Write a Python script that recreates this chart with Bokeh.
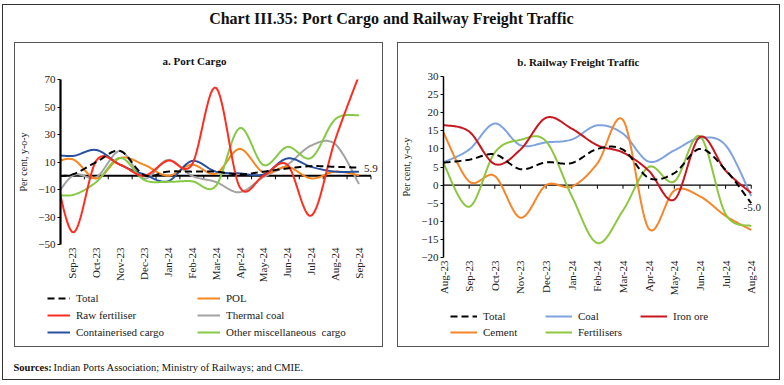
import numpy as np
from bokeh.plotting import figure
from bokeh.layouts import column, row, Spacer
from bokeh.models import Range1d, FixedTicker, Label, Legend, LegendItem
from bokeh.embed import file_html
from bokeh.resources import INLINE
from bokeh.core.properties import value

FONT = "Liberation Serif"
TXT = "#222222"

# ---------------- data: a. Port Cargo (per cent, y-o-y) ----------------
port_months = ["Aug-23", "Sep-23", "Oct-23", "Nov-23", "Dec-23", "Jan-24", "Feb-24",
               "Mar-24", "Apr-24", "May-24", "Jun-24", "Jul-24", "Aug-24", "Sep-24"]
port_total = [-0.4, 1.0, 10.0, 18.0, 0.5, 3.0, 3.0, 3.0, 1.0, 3.0, 5.3, 7.0, 6.5, 5.9]
port_pol = [7.6, 12.0, -2.0, 13.0, 8.0, 0.0, 8.0, 1.5, 19.5, 2.4, 6.5, -2.0, 3.0, 0.4]
port_raw_fert = [29.0, -41.0, 11.0, 8.0, 0.0, 11.0, 8.0, 64.0, -8.0, 0.0, 8.0, -29.0, 26.0, 73.0]
port_thermal = [-24.0, 0.0, -1.0, 18.0, -2.0, 11.5, 0.0, -4.5, -12.0, -1.0, 8.0, 22.0, 23.0, -6.0]
port_container = [16.0, 14.4, 18.7, 8.0, 1.0, -4.0, 10.7, 3.0, 1.7, 1.0, 12.6, 6.5, 3.0, 3.0]
port_other = [-12.8, -14.0, -4.5, 13.0, -3.0, -4.4, -4.0, -7.5, 34.6, 7.8, 21.0, 13.0, 41.0, 44.0]
port_yticks = [-50, -30, -10, 10, 30, 50, 70]

# ---------------- data: b. Railway Freight Traffic ----------------
rail_months = ["Aug-23", "Sep-23", "Oct-23", "Nov-23", "Dec-23", "Jan-24", "Feb-24",
               "Mar-24", "Apr-24", "May-24", "Jun-24", "Jul-24", "Aug-24"]
rail_total = [6.2, 7.0, 8.5, 4.4, 6.3, 6.1, 10.0, 9.8, 2.0, 3.3, 10.0, 4.2, -5.0]
rail_coal = [6.3, 9.8, 17.0, 11.0, 11.8, 12.6, 16.5, 14.2, 6.5, 9.6, 13.0, 11.0, -3.0]
rail_iron = [16.6, 14.8, 5.8, 9.8, 18.6, 15.6, 11.0, 9.0, 4.0, -4.0, 13.3, 4.0, -2.2]
rail_cement = [14.5, 1.0, 2.5, -9.0, 0.0, -0.4, 6.0, 18.0, -12.0, -1.5, -3.1, -8.5, -12.4]
rail_fert = [6.0, -6.0, 9.0, 12.5, 12.1, -3.0, -16.0, -7.0, 5.0, 1.0, 13.5, -8.0, -11.3]
rail_yticks = [-20, -15, -10, -5, 0, 5, 10, 15, 20, 25, 30]

C_BLACK = "#000000"
C_POL = "#F7861F"
C_RAW = "#FF2D1E"
C_THERMAL = "#A3A3A3"
C_CONT = "#28509E"
C_OTHER = "#86C944"
C_COAL = "#7FA3DC"
C_IRON = "#C8161E"
C_CEMENT = "#F7852A"
C_FERT = "#8DC63F"
DASH = "7 4"


def smooth(xs, ys, n=24):
    """Excel-like smoothed line (cubic Bezier through every point)."""
    x = np.asarray(xs, float)
    y = np.asarray(ys, float)
    xp = np.concatenate([[x[0]], x, [x[-1]]])
    yp = np.concatenate([[y[0]], y, [y[-1]]])
    t = np.linspace(0, 1, n, endpoint=False)
    ox, oy = [], []
    for i in range(1, len(x)):
        for arr, out in ((xp, ox), (yp, oy)):
            p0, p1, p2, p3 = arr[i - 1], arr[i], arr[i + 1], arr[i + 2]
            b1 = p1 + (p2 - p0) / 6.0
            b2 = p2 - (p3 - p1) / 6.0
            out.extend((1 - t) ** 3 * p1 + 3 * (1 - t) ** 2 * t * b1
                       + 3 * (1 - t) * t ** 2 * b2 + t ** 3 * p2)
    ox.append(x[-1])
    oy.append(y[-1])
    return ox, oy


def blank_fig(w, h):
    f = figure(width=w, height=h, x_range=Range1d(0, w), y_range=Range1d(0, h),
               toolbar_location=None, output_backend="svg", min_border=0, title=None)
    f.axis.visible = False
    f.xgrid.visible = False
    f.ygrid.visible = False
    f.outline_line_color = None
    return f


def style_axes(p, yticks, axis_w):
    p.xgrid.visible = False
    p.ygrid.visible = False
    p.outline_line_color = None
    ya = p.yaxis[0]
    ya.ticker = FixedTicker(ticks=yticks)
    ya.axis_line_width = axis_w
    ya.axis_line_color = "black"
    ya.major_tick_line_color = "black"
    ya.major_tick_in = 0
    ya.major_tick_out = 3
    ya.minor_tick_line_color = None
    ya.minor_tick_in = 0
    ya.minor_tick_out = 0
    ya.major_label_text_font = FONT
    ya.major_label_text_font_size = "11px"
    ya.major_label_text_color = TXT
    ya.major_label_standoff = 2
    ya.axis_label = "Per cent, y-o-y"
    ya.axis_label_text_font = FONT
    ya.axis_label_text_font_size = "10px"
    ya.axis_label_text_font_style = "normal"
    ya.axis_label_text_color = TXT
    ya.axis_label_standoff = 6
    xa = p.xaxis[0]
    xa.axis_line_color = None
    xa.major_tick_line_color = None
    xa.minor_tick_line_color = None
    xa.major_tick_in = 0
    xa.major_tick_out = 0
    xa.minor_tick_in = 0
    xa.minor_tick_out = 0
    xa.major_label_orientation = np.pi / 2
    xa.major_label_text_font = FONT
    xa.major_label_text_font_size = "11px"
    xa.major_label_text_color = TXT
    xa.major_label_standoff = 3


def legend_fig(w, h, entries, ncols, loc, glyph_w, label_w, spacing):
    f = blank_fig(w, h)
    items = []
    for label, col, dash in entries:
        r = f.line(x=np.array([np.nan]), y=np.array([np.nan]), line_color=col,
                   line_width=2, line_dash=dash)
        items.append(LegendItem(label=label, renderers=[r]))
    lg = Legend(items=items, ncols=ncols, orientation="horizontal", location=loc)
    lg.background_fill_alpha = 0
    lg.border_line_color = None
    lg.label_text_font = FONT
    lg.label_text_font_size = "11px"
    lg.label_text_color = TXT
    lg.glyph_width = glyph_w
    lg.glyph_height = 14
    lg.label_height = 14
    lg.label_width = label_w
    lg.label_standoff = 6
    lg.spacing = spacing
    lg.padding = 0
    lg.margin = 0
    f.add_layout(lg)
    return f


def title_fig(w, h, text, x, y):
    f = blank_fig(w, h)
    f.add_layout(Label(x=x, y=y, text=text, text_font=FONT, text_font_size="11px",
                       text_font_style="bold", text_color="#111111",
                       text_align="center", text_baseline="middle"))
    return f


# ================= panel a =================
WA = 367
pa = figure(width=WA, height=217, x_range=Range1d(-0.5, 12.9), y_range=Range1d(-50, 70),
            toolbar_location=None, output_backend="svg", title=None,
            min_border_left=41, min_border_right=2, min_border_top=8, min_border_bottom=44)
style_axes(pa, port_yticks, 2.2)
port_x = np.arange(len(port_months)) - 1
cat_a = port_x[1:]
pa.xaxis[0].ticker = FixedTicker(ticks=[int(v) for v in cat_a])
pa.xaxis[0].major_label_overrides = {int(i): m for i, m in zip(cat_a, port_months[1:])}

# zero line with small ticks at category boundaries
pa.segment(x0=[cat_a[0] - 0.5], y0=[0], x1=[cat_a[-1] + 0.5], y1=[0], line_color="black", line_width=2.2)
bounds_a = cat_a + 0.5
pa.segment(x0=bounds_a, y0=np.zeros(len(bounds_a)), x1=bounds_a, y1=np.full(len(bounds_a), -2.6),
           line_color="black", line_width=1)

for ys, col, dash in [(port_thermal, C_THERMAL, "solid"),
                      (port_pol, C_POL, "solid"),
                      (port_container, C_CONT, "solid"),
                      (port_other, C_OTHER, "solid"),
                      (port_raw_fert, C_RAW, "solid"),
                      (port_total, C_BLACK, DASH)]:
    sx, sy = smooth(port_x, ys)
    pa.line(sx, sy, line_color=col, line_width=2, line_dash=dash)

pa.text(x=[port_x[-1]], y=[port_total[-1]], text=[f"{port_total[-1]:.1f}"],
        text_font=value(FONT), text_font_size="11px", text_color=TXT,
        text_align="left", text_baseline="middle", x_offset=5, y_offset=1)

ta = title_fig(WA, 28, "a. Port Cargo", 179, 11)
la = legend_fig(WA, 58, [("Total", C_BLACK, DASH), ("POL", C_POL, "solid"),
                         ("Raw fertiliser", C_RAW, "solid"), ("Thermal coal", C_THERMAL, "solid"),
                         ("Containerised cargo", C_CONT, "solid"),
                         ("Other miscellaneous  cargo", C_OTHER, "solid")],
                2, (32, 7), 23, 118, 3)
panel_a = column(ta, row(pa), la, styles={"border": "1px solid #555555"})

# ================= panel b =================
WB = 370
pb = figure(width=WB, height=234, x_range=Range1d(0, 12.4), y_range=Range1d(-20, 30),
            toolbar_location=None, output_backend="svg", title=None,
            min_border_left=40, min_border_right=7, min_border_top=7, min_border_bottom=46)
style_axes(pb, rail_yticks, 1.5)
rail_x = np.arange(len(rail_months))
pb.xaxis[0].ticker = FixedTicker(ticks=[int(v) for v in rail_x])
pb.xaxis[0].major_label_overrides = {int(i): m for i, m in zip(rail_x, rail_months)}

pb.segment(x0=[rail_x[0]], y0=[0], x1=[rail_x[-1]], y1=[0], line_color="black", line_width=1.3)
tb = rail_x[1:].astype(float)
pb.segment(x0=tb, y0=np.zeros(len(tb)), x1=tb, y1=np.full(len(tb), -1.0),
           line_color="black", line_width=1)

for ys, col, dash in [(rail_coal, C_COAL, "solid"),
                      (rail_cement, C_CEMENT, "solid"),
                      (rail_fert, C_FERT, "solid"),
                      (rail_iron, C_IRON, "solid"),
                      (rail_total, C_BLACK, DASH)]:
    sx, sy = smooth(rail_x, ys)
    pb.line(sx, sy, line_color=col, line_width=2, line_dash=dash)

pb.text(x=[rail_x[-1]], y=[rail_total[-1]], text=[f"{rail_total[-1]:.1f}"],
        text_font=value(FONT), text_font_size="11px", text_color=TXT,
        text_align="center", text_baseline="top", x_offset=1, y_offset=1)

tbf = title_fig(WB, 26, "b. Railway Freight Traffic", 180, 8)
lb = legend_fig(WB, 43, [("Total", C_BLACK, DASH), ("Coal", C_COAL, "solid"),
                         ("Iron ore", C_IRON, "solid"), ("Cement", C_CEMENT, "solid"),
                         ("Fertilisers", C_FERT, "solid")],
                3, (52, 7), 27, 60, 2)
panel_b = column(tbf, row(pb), lb, styles={"border": "1px solid #555555"})

# ================= title & sources =================
INNER = 776
tf = blank_fig(INNER, 37)
tf.add_layout(Label(x=388, y=24, text="Chart III.35: Port Cargo and Railway Freight Traffic",
                    text_font=FONT, text_font_size="16px", text_font_style="bold",
                    text_color="#111111", text_align="center", text_baseline="middle"))

sf = blank_fig(INNER, 32)
sf.add_layout(Label(x=10, y=12, text="Sources:", text_font=FONT, text_font_size="10.5px",
                    text_font_style="bold", text_color="#111111",
                    text_align="left", text_baseline="middle"))
sf.add_layout(Label(x=50, y=12, text="Indian Ports Association; Ministry of Railways; and CMIE.",
                    text_font=FONT, text_font_size="10.5px", text_color="#111111",
                    text_align="left", text_baseline="middle"))

outer = column(tf, row(Spacer(width=11), panel_a, Spacer(width=14), panel_b, Spacer(width=10)), sf,
               styles={"border": "1px solid #333333"})
layout = column(Spacer(height=4), row(Spacer(width=2), outer))

open("out.html", "w").write(file_html(layout, INLINE))
